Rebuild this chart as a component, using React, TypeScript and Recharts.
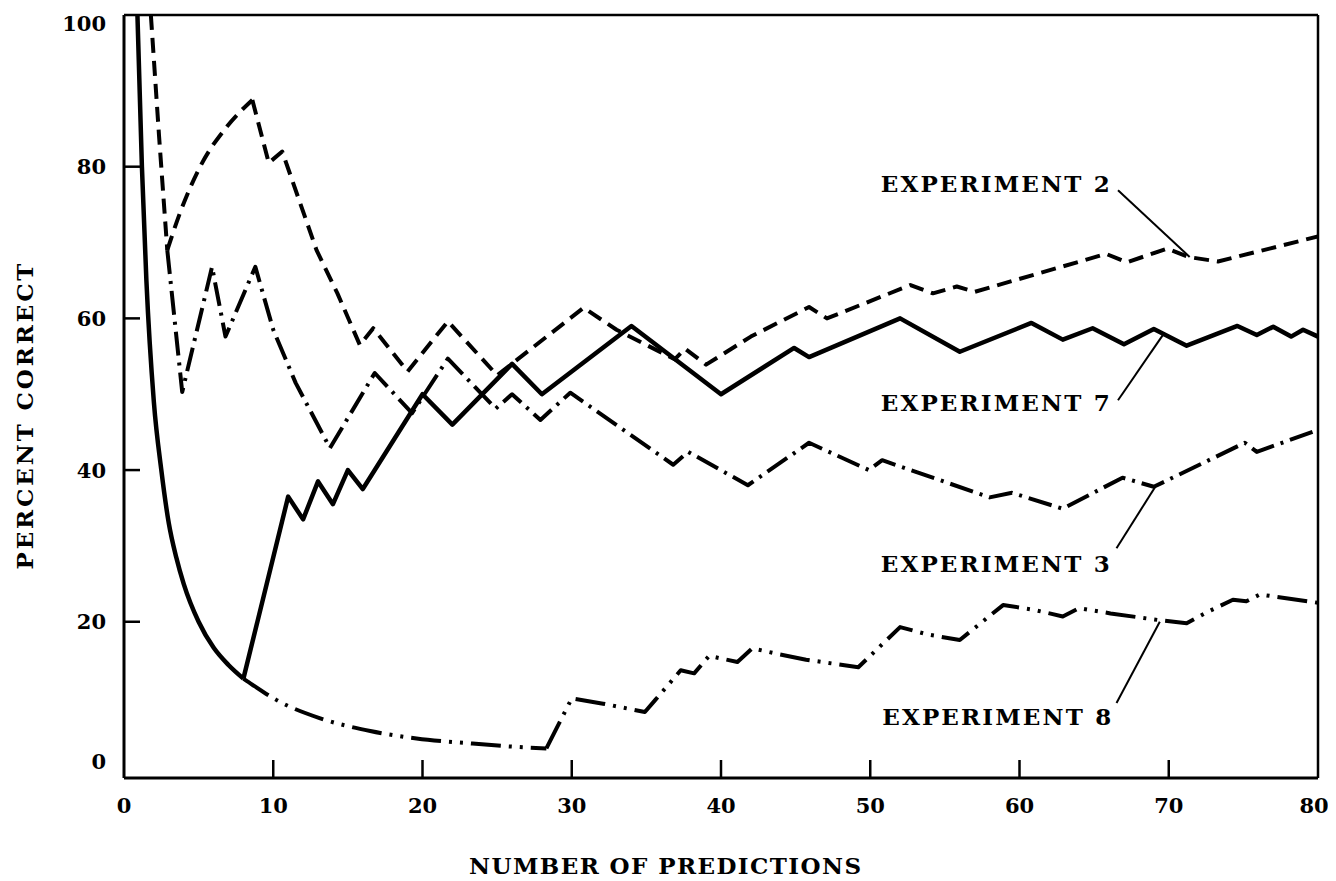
import React from 'react';
import {
  LineChart,
  Line,
  XAxis,
  YAxis,
  ReferenceLine,
  ReferenceDot,
} from 'recharts';

type Pt = [number, number];

const xTicks = [0, 10, 20, 30, 40, 50, 60, 70, 80];
const yTicks = [0, 20, 40, 60, 80, 100];

// values: [number of predictions, percent correct]
// the smooth stretches are kept apart so they can be drawn as curves
const experiment2: Pt[] = [
  [1.8, 100], [2.35, 84], [2.9, 69],
];
const experiment2Rise: Pt[] = [
  [2.9, 69], [3.75, 73.9], [5.1, 80], [6.9, 85.3], [8.6, 88.8],
];
const experiment2Rest: Pt[] = [
  [8.6, 88.8], [9.7, 80.5], [10.6, 82], [12.9, 69], [14.3, 63.3], [15.8, 56.5],
  [16.7, 58.7], [19, 53], [21.7, 59.6], [25, 52.5], [30.8, 61.4], [33, 58.5],
  [36.9, 54.6], [37.6, 56], [39, 53.9], [42, 57.6], [45.9, 61.5], [47.1, 60],
  [52.7, 64.4], [54.2, 63.3], [55.8, 64.2], [57, 63.5], [65.8, 68.5],
  [67.2, 67.4], [69.9, 69.2], [71.3, 68.1], [73.3, 67.5], [80, 70.8],
];

const experiment3: Pt[] = [
  [2.9, 69], [3.9, 50.3], [5.9, 66.8], [6.8, 57.6], [8.8, 66.8], [10, 58.5],
  [11.5, 51.5], [13.8, 42.9], [16.8, 52.8], [19.3, 47.5], [21.7, 54.7],
  [24.9, 48.1], [26, 50], [27.9, 46.6], [29.9, 50.2], [36.8, 40.7],
  [37.8, 42.4], [41.8, 38], [45.9, 43.6], [49.9, 40], [50.8, 41.3], [58, 36.4],
  [59.5, 37], [62.9, 34.9], [66.9, 39], [69, 37.8], [75.1, 43.6], [75.9, 42.4],
  [80, 45.3],
];

const experiment7Drop: Pt[] = [
  [0.9, 100], [1.2, 80], [1.5, 65], [2, 49], [2.5, 40], [3, 33], [3.5, 28.5],
  [4, 25], [5, 20], [6, 16.6], [7, 14.3], [8, 12.5],
];
const experiment7: Pt[] = [
  [8, 12.5], [11, 36.5], [12, 33.5], [13, 38.5], [14, 35.5], [15, 40],
  [16, 37.5], [20, 50], [22, 46], [26, 54], [28, 50], [34, 59], [40, 50],
  [44.9, 56.1], [45.9, 54.9], [52, 60], [56, 55.6], [60.8, 59.4], [62.9, 57.2],
  [64.9, 58.7], [67, 56.6], [69, 58.6], [71.2, 56.4], [74.6, 59], [75.9, 57.8],
  [77, 58.9], [78.2, 57.6], [79, 58.5], [80, 57.6],
];

const experiment8Drop: Pt[] = [
  [8, 12.5], [8.6, 11.7], [10.2, 9.7], [13.1, 7.3], [16.5, 5.6], [19.6, 4.6],
  [23, 4], [26.3, 3.5], [28.3, 3.3],
];
const experiment8: Pt[] = [
  [28.3, 3.3], [30, 9.9], [32.1, 9.2], [34.9, 8.1], [35.6, 9.7], [37.3, 13.6],
  [38.2, 13.2], [39.2, 15.5], [41.1, 14.7], [42.1, 16.5], [43.7, 15.8],
  [45.7, 15], [49.2, 14], [52, 19.3], [53.9, 18.3], [56, 17.6], [58.9, 22.2],
  [60.9, 21.6], [62.9, 20.7], [64, 21.8], [66.1, 21.1], [69.4, 20.2],
  [71.2, 19.8], [72.6, 21.3], [74.3, 22.9], [75.2, 22.7], [76.1, 23.6],
  [80, 22.5],
];

const labelNames = ['EXPERIMENT 2', 'EXPERIMENT 7', 'EXPERIMENT 3', 'EXPERIMENT 8'];
const labelAnchors: Pt[] = [[50.7, 76.7], [50.7, 47.8], [50.7, 26.6], [50.8, 6.4]];
const leaderLines: [Pt, Pt][] = [
  [[66.6, 76.9], [71.4, 68.1]],
  [[66.6, 49.2], [69.6, 57.8]],
  [[66.5, 29.7], [69.1, 37.8]],
  [[66.5, 9.3], [69.4, 20]],
];

const rows = (pts: Pt[]) => pts.map(([x, y]) => ({ x, y }));

const FONT = '"DejaVu Serif", serif';

const YTick = (props: any) => {
  const { x, y, payload } = props;
  const v = payload.value;
  const shift = v === 100 ? 6 : v === 0 ? -12 : 0;
  return (
    <g>
      {v > 0 && v < 100 && (
        <line x1={x + 18} y1={y} x2={x + 34} y2={y} stroke="#000" strokeWidth={2.5} />
      )}
      <text
        x={x}
        y={y + shift}
        dy="0.36em"
        textAnchor="end"
        fontFamily={FONT}
        fontWeight="bold"
        fontSize={21}
        fill="#000"
      >
        {v}
      </text>
    </g>
  );
};

const XTick = (props: any) => {
  const { x, y, payload } = props;
  const v = payload.value;
  return (
    <g>
      {v > 0 && v < 80 && (
        <line x1={x} y1={y} x2={x} y2={y - 18} stroke="#000" strokeWidth={2.5} />
      )}
      <text
        x={v === 80 ? x - 4 : x}
        y={y + 35}
        textAnchor="middle"
        fontFamily={FONT}
        fontWeight="bold"
        fontSize={21}
        fill="#000"
      >
        {v}
      </text>
    </g>
  );
};

const YTitle = (props: any) => {
  const { x, y, height } = props.viewBox;
  const tx = x + 9;
  const ty = y + height / 2 + 20;
  return (
    <text
      x={tx}
      y={ty}
      transform={`rotate(-90, ${tx}, ${ty})`}
      textAnchor="middle"
      textLength={306}
      lengthAdjust="spacing"
      fontFamily={FONT}
      fontWeight="bold"
      fontSize={23}
      fill="#000"
    >
      PERCENT CORRECT
    </text>
  );
};

const XTitle = (props: any) => {
  const { x, y } = props.viewBox;
  return (
    <text
      x={x + 541}
      y={y + 96}
      textAnchor="middle"
      textLength={392}
      lengthAdjust="spacing"
      fontFamily={FONT}
      fontWeight="bold"
      fontSize={23}
      fill="#000"
    >
      NUMBER OF PREDICTIONS
    </text>
  );
};

const annotation = (name: string) => (props: any) => {
  const { x, y, width, height } = props.viewBox;
  return (
    <text
      x={x + width / 2}
      y={y + height / 2}
      textLength={229}
      lengthAdjust="spacing"
      fontFamily={FONT}
      fontWeight="bold"
      fontSize={23}
      fill="#000"
    >
      {name}
    </text>
  );
};

const series = [
  { key: 'e2a', pts: experiment2, dash: '15 8', curve: false, w: 4 },
  { key: 'e2b', pts: experiment2Rise, dash: '15 8', curve: true, w: 4 },
  { key: 'e2c', pts: experiment2Rest, dash: '15 8', curve: false, w: 4 },
  { key: 'e3', pts: experiment3, dash: '24 7 3 7', curve: false, w: 4 },
  { key: 'e7a', pts: experiment7Drop, dash: undefined, curve: true, w: 4.5 },
  { key: 'e7b', pts: experiment7, dash: undefined, curve: false, w: 4.5 },
  { key: 'e8a', pts: experiment8Drop, dash: '30 8 3 8 3 8', curve: true, w: 4 },
  { key: 'e8b', pts: experiment8, dash: '30 8 3 8 3 8', curve: false, w: 4 },
];

export default function App() {
  return (
    <LineChart
      width={1328}
      height={873}
      margin={{ top: 7, right: 18, bottom: 43, left: 16 }}
      style={{ background: '#fff' }}
    >
      <XAxis
        type="number"
        dataKey="x"
        domain={[0, 80]}
        ticks={xTicks}
        allowDataOverflow
        height={60}
        tickSize={0}
        tickMargin={0}
        tickLine={false}
        axisLine={{ stroke: '#000', strokeWidth: 3 }}
        tick={<XTick />}
        label={XTitle}
      />
      <YAxis
        type="number"
        domain={[-0.6, 100]}
        ticks={yTicks}
        allowDataOverflow
        width={100}
        tickSize={0}
        tickMargin={18}
        tickLine={false}
        axisLine={{ stroke: '#000', strokeWidth: 3 }}
        tick={<YTick />}
        label={YTitle}
      />
      <ReferenceLine y={100} stroke="#000" strokeWidth={2.5} />
      <ReferenceLine x={80} stroke="#000" strokeWidth={2.5} />

      {series.map((s) => (
        <Line
          key={s.key}
          data={rows(s.pts)}
          dataKey="y"
          type={s.curve ? 'monotone' : 'linear'}
          stroke="#000"
          strokeWidth={s.w}
          strokeDasharray={s.dash}
          strokeLinejoin="round"
          dot={false}
          isAnimationActive={false}
        />
      ))}

      {leaderLines.map(([a, b], i) => (
        <ReferenceLine
          key={`leader-${i}`}
          segment={[{ x: a[0], y: a[1] }, { x: b[0], y: b[1] }]}
          stroke="#000"
          strokeWidth={2}
          ifOverflow="visible"
        />
      ))}
      {labelAnchors.map(([x, y], i) => (
        <ReferenceDot
          key={`label-${i}`}
          x={x}
          y={y}
          r={0}
          fill="none"
          stroke="none"
          ifOverflow="visible"
          label={annotation(labelNames[i])}
        />
      ))}
    </LineChart>
  );
}
